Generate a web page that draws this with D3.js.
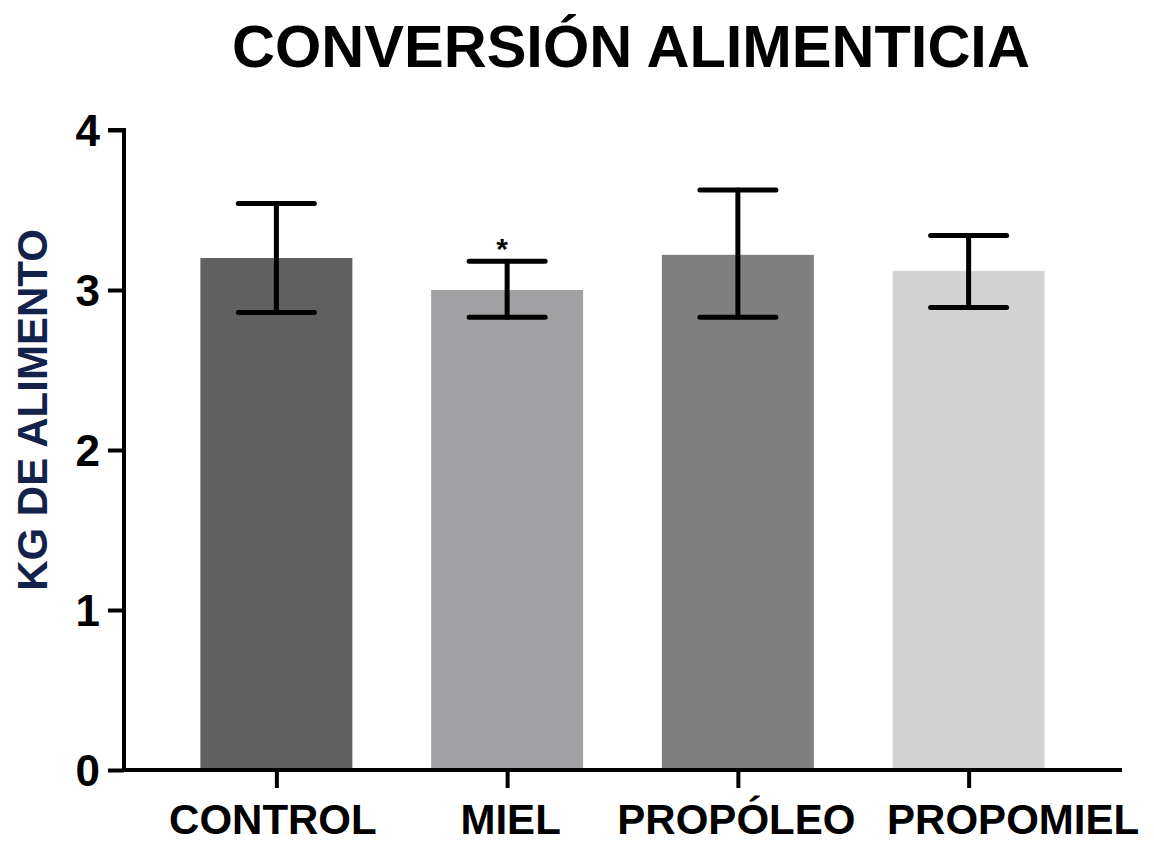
<!DOCTYPE html>
<html><head><meta charset="utf-8">
<script src="https://cdn.jsdelivr.net/npm/d3@7"></script>
<style>body{margin:0;background:#fff}svg{display:block}text{font-family:"Liberation Sans",Arial,sans-serif;font-weight:bold}</style>
</head><body>
<svg id="c" width="1154" height="844"></svg>
<script>
const categories = ["CONTROL","MIEL","PROPÓLEO","PROPOMIEL"];
const means = [3.20, 3.00, 3.22, 3.12];
const errHigh = [3.54, 3.18, 3.625, 3.34];
const errLow = [2.86, 2.83, 2.83, 2.89];
const barColors = ["#606060","#a1a1a4","#7f7f7f","#d3d3d3"];
const significance = ["", "*", "", ""];
const yTicks = [0,1,2,3,4];
const titleText = "CONVERSIÓN ALIMENTICIA";
const yTitle = "KG DE ALIMENTO";

const svg = d3.select("#c");
const y = d3.scaleLinear().domain([0,4]).range([770,130]);
const x = d3.scalePoint().domain(categories).range([161,1084]).padding(0.5);
const bw = 152, capW = 76;
const labelShift = [-4, 3, -2, 44];

svg.append("text").attr("x",631).attr("y",67).attr("text-anchor","middle")
  .attr("font-size",59.5).attr("fill","#000").text(titleText);

svg.selectAll("rect.bar").data(categories).join("rect").attr("class","bar")
  .attr("x",d=>x(d)-bw/2).attr("width",bw)
  .attr("y",(d,i)=>y(means[i])).attr("height",(d,i)=>y(0)-y(means[i]))
  .attr("fill",(d,i)=>barColors[i]);

const eg = svg.append("g").attr("stroke","#000").attr("stroke-width",5).attr("stroke-linecap","round");
categories.forEach((c,i)=>{
  const cx = x(c);
  eg.append("line").attr("x1",cx).attr("x2",cx).attr("y1",y(errHigh[i])).attr("y2",y(errLow[i]));
  eg.append("line").attr("x1",cx-capW/2).attr("x2",cx+capW/2).attr("y1",y(errHigh[i])).attr("y2",y(errHigh[i]));
  eg.append("line").attr("x1",cx-capW/2).attr("x2",cx+capW/2).attr("y1",y(errLow[i])).attr("y2",y(errLow[i]));
  if (significance[i]) svg.append("text").attr("x",cx-5).attr("y",y(errHigh[i])-2)
    .attr("text-anchor","middle").attr("font-size",30).attr("font-weight","normal").text(significance[i]);
});

// Y axis
const ya = svg.append("g").attr("transform","translate(124,0)")
  .call(d3.axisLeft(y).tickValues(yTicks).tickSize(16).tickPadding(8).tickFormat(d3.format("d")));
ya.select(".domain").attr("stroke","#000").attr("stroke-width",4).attr("d","M-16,130H0V770");
ya.selectAll(".tick line").attr("stroke","#000").attr("stroke-width",4);
ya.selectAll(".tick text").attr("font-size",44).attr("fill","#000").attr("font-family","Liberation Sans, Arial, sans-serif").attr("font-weight","bold").attr("dy","0.36em");

// X axis
const xa = svg.append("g").attr("transform","translate(0,770)")
  .call(d3.axisBottom(x).tickSize(18).tickPadding(16));
xa.select(".domain").attr("stroke","#000").attr("stroke-width",4).attr("d","M122,0H1122");
xa.selectAll(".tick line").attr("stroke","#000").attr("stroke-width",4);
xa.selectAll(".tick text").attr("font-size",42).attr("fill","#000")
  .attr("font-family","Liberation Sans, Arial, sans-serif").attr("font-weight","bold")
  .attr("dy","0.71em").attr("transform",(d,i)=>`translate(${labelShift[i]},0)`);

svg.append("text").attr("transform","translate(47,410) rotate(-90)").attr("text-anchor","middle")
  .attr("font-size",42).attr("fill","#13224a").text(yTitle);
</script>
</body></html>
